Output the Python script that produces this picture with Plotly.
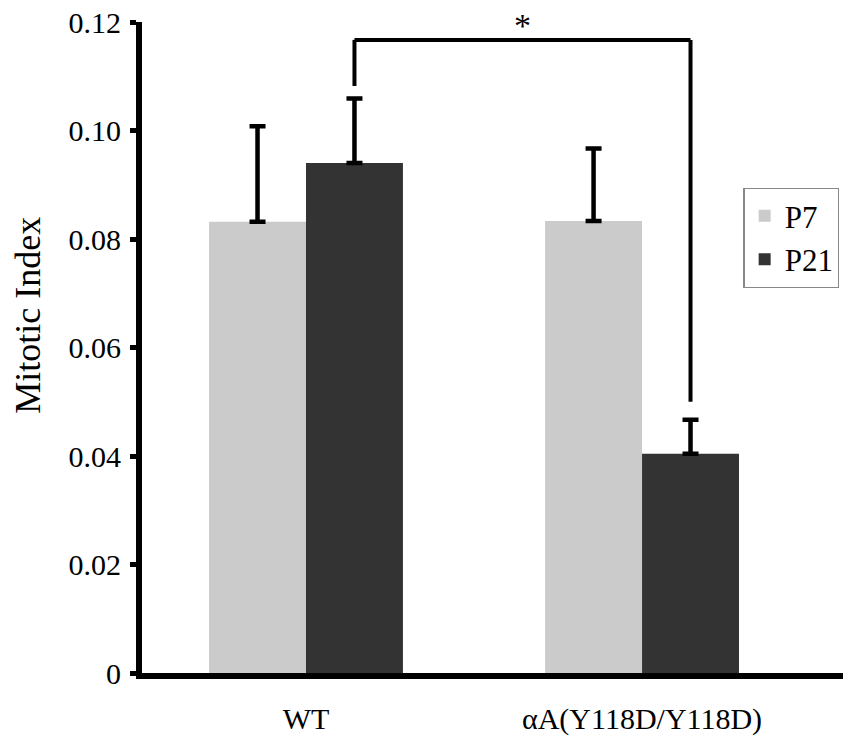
import plotly.graph_objects as go

categories = ["WT", "αA(Y118D/Y118D)"]
p7_values = [0.0832, 0.0833]
p7_errors = [0.0176, 0.0134]
p21_values = [0.0940, 0.0404]
p21_errors = [0.0119, 0.0063]
series_names = ["P7", "P21"]
y_ticks = [0, 0.02, 0.04, 0.06, 0.08, 0.10, 0.12]
y_tick_labels = ["0", "0.02", "0.04", "0.06", "0.08", "0.10", "0.12"]
y_title = "Mitotic Index"
bracket_y = [0.1082, 0.1167, 0.0500]

BARGAP = 0.423
FONT = "Liberation Serif, Times New Roman, serif"

fig = go.Figure()
fig.add_trace(go.Bar(
    x=categories, y=p7_values, name=series_names[0],
    marker=dict(color="#cbcbcb", line=dict(width=0)),
    error_y=dict(type="data", array=p7_errors, arrayminus=[0] * len(p7_errors),
                 symmetric=False, visible=True,
                 color="black", thickness=4.5, width=8),
))
fig.add_trace(go.Bar(
    x=categories, y=p21_values, name=series_names[1],
    marker=dict(color="#333333", line=dict(width=0)),
    error_y=dict(type="data", array=p21_errors, arrayminus=[0] * len(p21_errors),
                 symmetric=False, visible=True,
                 color="black", thickness=4.5, width=8),
))

# significance bracket between the two P21 bars
off = (1 - BARGAP) / 4
xl = 0 + off
xr = 1 + off
line = dict(color="black", width=4)
fig.add_shape(type="line", xref="x", yref="y", x0=xl, x1=xl, y0=bracket_y[0], y1=bracket_y[1], line=line)
fig.add_shape(type="line", xref="x", yref="y", x0=xl, x1=xr, y0=bracket_y[1], y1=bracket_y[1], line=line)
fig.add_shape(type="line", xref="x", yref="y", x0=xr, x1=xr, y0=bracket_y[1], y1=bracket_y[2], line=line)
fig.add_annotation(x=(xl + xr) / 2, y=bracket_y[1], xref="x", yref="y",
                   text="*", showarrow=False, yanchor="top", yshift=35,
                   font=dict(family=FONT, size=34, color="black"))

# y-axis title (placed slightly above the axis centre, as in the original)
fig.add_annotation(x=-0.163, y=0.55, xref="paper", yref="paper",
                   text=y_title, textangle=-90, showarrow=False,
                   xanchor="center", yanchor="middle",
                   font=dict(family=FONT, size=36, color="black"))

fig.update_layout(
    width=843, height=749,
    margin=dict(l=142, r=0, t=22, b=76, autoexpand=False),
    paper_bgcolor="white", plot_bgcolor="white",
    barmode="group", bargap=BARGAP, bargroupgap=0,
    font=dict(family=FONT, color="black"),
    showlegend=True,
    legend=dict(x=0.858, y=0.745, xanchor="left", yanchor="top",
                bordercolor="#888888", borderwidth=1.2,
                font=dict(family=FONT, size=31, color="black"),
                itemwidth=30, tracegroupgap=0),
    xaxis=dict(range=[-0.488, 1.598], showline=True, linecolor="black", linewidth=6,
               ticks="", showgrid=False, zeroline=False, automargin=False,
               tickfont=dict(family=FONT, size=30, color="black"),
               ticklabelstandoff=14, ticklabeloverflow="allow"),
    yaxis=dict(range=[0, 0.12], showline=True, linecolor="black", linewidth=6,
               ticks="outside", ticklen=6, tickwidth=5, tickcolor="black",
               tickvals=y_ticks, ticktext=y_tick_labels, automargin=False,
               showgrid=False, zeroline=False,
               tickfont=dict(family=FONT, size=30, color="black"),
               ticklabelstandoff=3, ticklabeloverflow="allow"),
)

fig.write_html("out.html",
               config={"displayModeBar": False},
               post_script="document.body.style.margin='0';")
